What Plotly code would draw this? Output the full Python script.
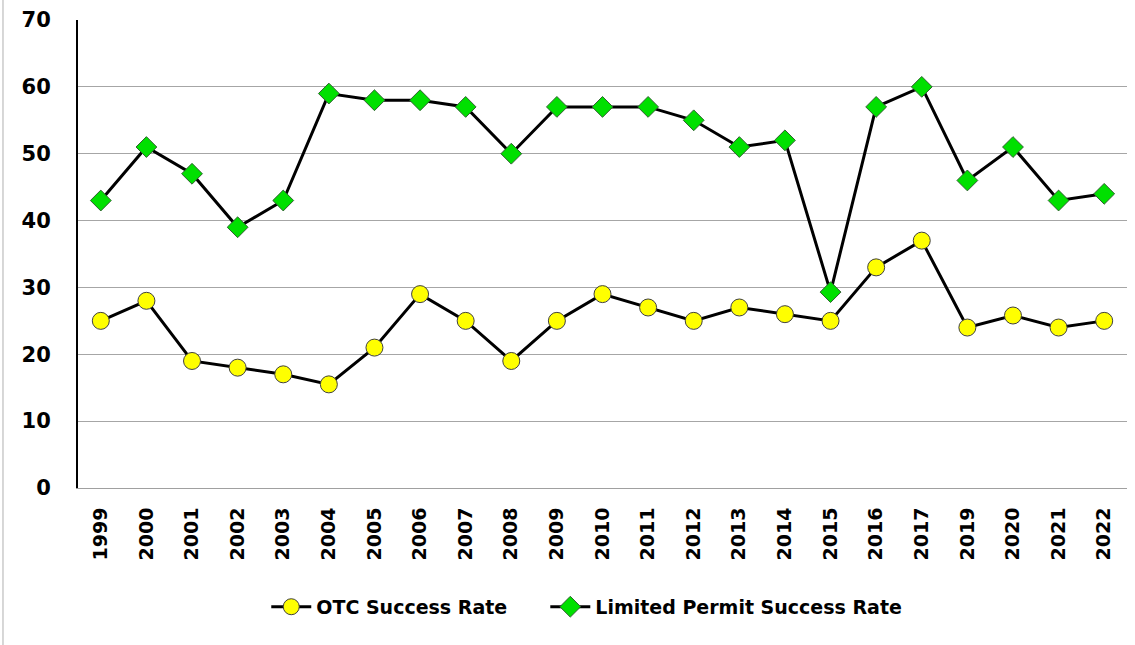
import plotly.graph_objects as go

years = ["1999", "2000", "2001", "2002", "2003", "2004", "2005", "2006", "2007", "2008",
         "2009", "2010", "2011", "2012", "2013", "2014", "2015", "2016", "2017", "2019",
         "2020", "2021", "2022"]
otc = [25, 28, 19, 18, 17, 15.5, 21, 29, 25, 19, 25, 29, 27, 25, 27, 26, 25, 33, 37, 24,
       25.8, 24, 25]
limited = [43, 51, 47, 39, 43, 59, 58, 58, 57, 50, 57, 57, 57, 55, 51, 52, 29.3, 57, 60, 46,
           51, 43, 44]
y_ticks = [0, 10, 20, 30, 40, 50, 60, 70]

fig = go.Figure()
fig.add_trace(go.Scatter(
    x=years, y=otc, name="OTC Success Rate" + "\u00a0" * 5, mode="lines+markers",
    line=dict(color="black", width=3),
    marker=dict(symbol="circle", size=17, color="#FFFF00", line=dict(color="#404040", width=1)),
))
fig.add_trace(go.Scatter(
    x=years, y=limited, name="Limited Permit Success Rate", mode="lines+markers",
    line=dict(color="black", width=3),
    marker=dict(symbol="diamond", size=16, color="#00E000", line=dict(color="#306030", width=1)),
))

fig.update_layout(
    width=1135, height=645,
    margin=dict(l=78, r=8, t=20, b=157, autoexpand=False),
    paper_bgcolor="white", plot_bgcolor="white",
    showlegend=True,
    legend=dict(orientation="h", x=0.485, xanchor="center", y=-0.254, yanchor="middle",
                font=dict(family="DejaVu Sans", size=19, color="black", weight="bold"),
                itemwidth=40, tracegroupgap=0),
    xaxis=dict(type="category", range=[-0.5, 22.5], tickangle=-90,
               tickfont=dict(family="DejaVu Sans", size=19, color="black", weight="bold"),
               showgrid=False, showline=True, linecolor="#A0A0A0", linewidth=1,
               ticks="", ticklabelstandoff=11, fixedrange=True, automargin=False),
    yaxis=dict(range=[0, 70], tickvals=y_ticks, showgrid=True, gridcolor="#A6A6A6", gridwidth=1,
               tickfont=dict(family="DejaVu Sans", size=21, color="black", weight="bold"),
               showline=True, linecolor="black", linewidth=2, zeroline=False,
               ticks="", ticklabelstandoff=21, fixedrange=True, automargin=False),
    shapes=[dict(type="line", xref="paper", yref="paper", x0=-0.0715, x1=-0.0715,
                 y0=-0.35, y1=1.05, line=dict(color="#B0B0B0", width=1))],
)

fig.write_html("out.html", config={"displayModeBar": False},
               post_script="document.body.style.margin='0';")
